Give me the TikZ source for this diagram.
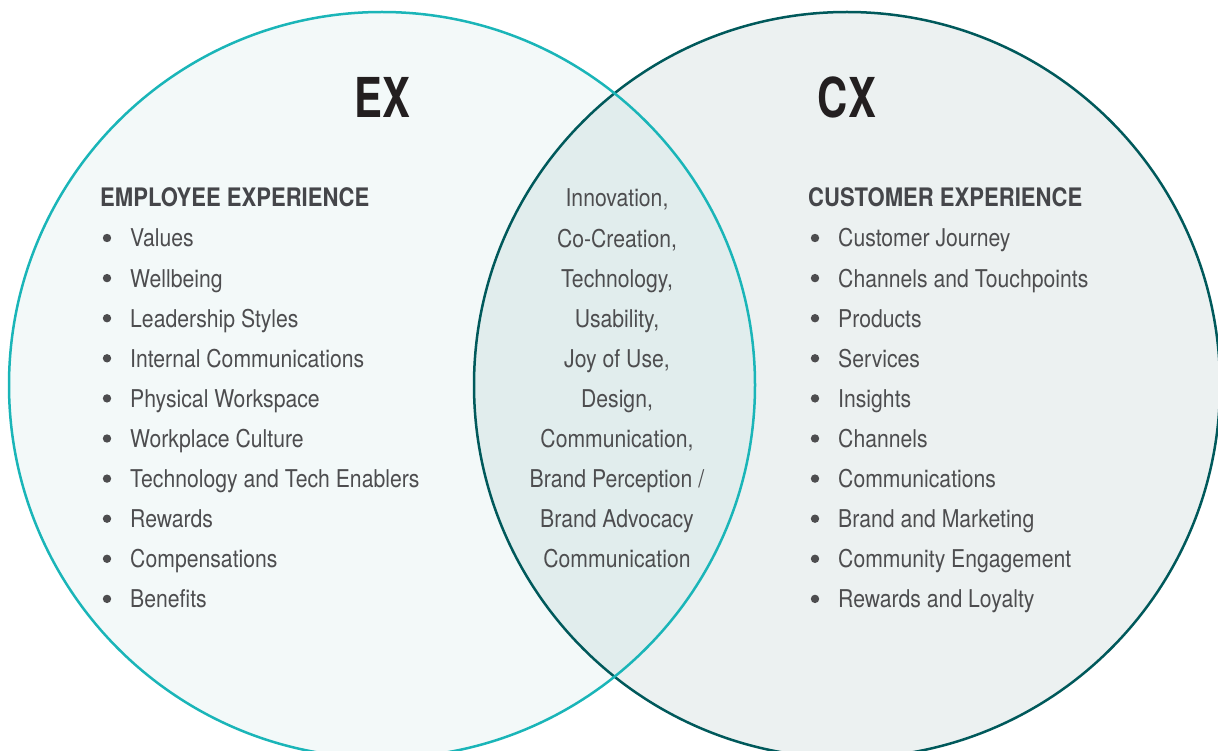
\documentclass[tikz,border=0pt]{standalone}
\usepackage{fontspec}
\setmainfont{TeX Gyre Heros}[FakeStretch=0.865]
\newfontfamily\titlefont{TeX Gyre Heros}[FakeStretch=0.76]

\definecolor{exline}{HTML}{1AB5B8}
\definecolor{cxline}{HTML}{00595B}
\definecolor{exfill}{HTML}{F3F9F9}
\definecolor{cxfill}{HTML}{ECF1F1}
\definecolor{midfill}{HTML}{E1EDED}
\definecolor{txtgray}{HTML}{4D4D4F}
\definecolor{headgray}{HTML}{45464A}
\definecolor{titleblack}{HTML}{231F20}

\begin{document}
\begin{tikzpicture}[x=1pt, y=-1pt,
    item/.style={anchor=base west, inner sep=0pt, text=txtgray, font=\fontsize{24.5}{29}\selectfont},
    miditem/.style={anchor=base, inner sep=0pt, text=txtgray, font=\fontsize{24.5}{29}\selectfont},
    heading/.style={anchor=base west, inner sep=0pt, text=headgray, font=\fontsize{25.5}{30}\selectfont\bfseries},
    title/.style={anchor=base, inner sep=0pt, text=titleblack, font=\fontsize{55}{60}\titlefont\bfseries}]
    % Define the circles
    \def\r{373}
    \def\ex{382}
    \def\cx{847}
    \def\cy{385}
    \def\dy{40.1}

    \useasboundingbox (0,0) rectangle (1218,751);
    \clip (0,0) rectangle (1218,751);

    % Fill both circles and the overlap
    \fill[exfill] (\ex,\cy) circle (\r);
    \fill[cxfill] (\cx,\cy) circle (\r);
    \begin{scope}
        \clip (\ex,\cy) circle (\r);
        \fill[midfill] (\cx,\cy) circle (\r);
    \end{scope}

    % Draw the outlines
    \draw[cxline, line width=2.5pt] (\cx,\cy) circle (\r);
    \draw[exline, line width=2.5pt] (\ex,\cy) circle (\r);

    % Titles
    \node[title] (ex) at (\ex,118) {EX};
    \node[title] (cx) at (\cx,118) {CX};
    \node[heading] (exhead) at (100,207) {EMPLOYEE EXPERIENCE};
    \node[heading] (cxhead) at (808,207) {CUSTOMER EXPERIENCE};

    % Employee side
    \foreach \t [count=\i] in {Values, Wellbeing, Leadership Styles, Internal Communications,
        Physical Workspace, Workplace Culture, Technology and Tech Enablers, Rewards,
        Compensations, Benefits} {
        \node[item] (ex-\i) at (130, {247+(\i-1)*\dy}) {\t};
        \fill[txtgray] (107, {238+(\i-1)*\dy}) circle (4.2);
    }

    % Customer side
    \foreach \t [count=\i] in {Customer Journey, Channels and Touchpoints, Products, Services,
        Insights, Channels, Communications, Brand and Marketing, Community Engagement,
        Rewards and Loyalty} {
        \node[item] (cx-\i) at (838, {247+(\i-1)*\dy}) {\t};
        \fill[txtgray] (815, {238+(\i-1)*\dy}) circle (4.2);
    }

    % Overlap
    \foreach \t [count=\i] in {{Innovation,}, {Co-Creation,}, {Technology,}, {Usability,},
        {Joy of Use,}, {Design,}, {Communication,}, {Brand Perception /},
        {Brand Advocacy}, {Communication}} {
        \node[miditem] (mid-\i) at (617, {207+(\i-1)*\dy}) {\t};
    }
\end{tikzpicture}
\end{document}
